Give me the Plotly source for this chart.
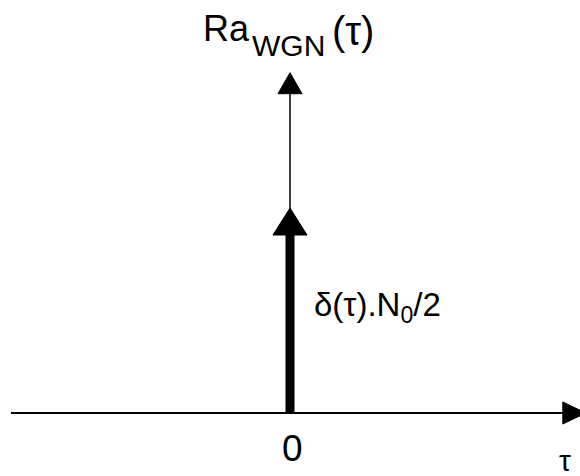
import plotly.graph_objects as go

# Autocorrelation of white Gaussian noise: a single impulse at tau = 0
impulse_tau = [0.0]
impulse_weight = [1.0]          # strength N0/2 (normalised)
tau_span = [-0.962, 1.02]       # extent of the tau axis
r_axis_top = [1.66]             # extent of the Ra axis

W, H = 580, 476
X_RANGE = [-1.0, 1.0]
PX_PER_Y = 205.0
Y0_PX = 413.0
Y_RANGE = [-(H - Y0_PX) / PX_PER_Y, Y0_PX / PX_PER_Y]
PX_PER_X = W / (X_RANGE[1] - X_RANGE[0])

FONT = "Liberation Sans, Arial, sans-serif"


def dx(px):
    return px / PX_PER_X


def dy(px):
    return px / PX_PER_Y


def head(tip_x, tip_y, direction, half_w, length):
    """Filled triangular arrowhead, sizes in pixels."""
    if direction == "up":
        xs = [tip_x, tip_x - dx(half_w), tip_x + dx(half_w), tip_x]
        ys = [tip_y, tip_y - dy(length), tip_y - dy(length), tip_y]
    else:  # right
        xs = [tip_x, tip_x - dx(length), tip_x - dx(length), tip_x]
        ys = [0, dy(half_w), -dy(half_w), 0]
    return go.Scatter(x=xs, y=ys, mode="lines", fill="toself",
                      fillcolor="black", line=dict(color="black", width=1),
                      hoverinfo="skip", showlegend=False)


fig = go.Figure()

# tau axis
fig.add_trace(go.Scatter(x=[tau_span[0], tau_span[1] - dx(22)], y=[0, 0],
                         mode="lines", line=dict(color="black", width=2),
                         showlegend=False))
fig.add_trace(head(tau_span[1], 0, "right", 11, 23))

# Ra axis
fig.add_trace(go.Scatter(x=[0, 0], y=[0, r_axis_top[0] - dy(20)],
                         mode="lines", line=dict(color="black", width=1.5),
                         showlegend=False))
fig.add_trace(head(0, r_axis_top[0], "up", 12, 21))

# impulse
for t, w in zip(impulse_tau, impulse_weight):
    fig.add_trace(go.Scatter(x=[t, t], y=[0, w - dy(26)], mode="lines",
                             line=dict(color="black", width=9),
                             showlegend=False))
    fig.add_trace(head(t, w, "up", 17, 27))


def ptxt(text, x_px, y_px, size, xanchor="left"):
    return dict(text=text, xref="paper", yref="paper", x=x_px / W,
                y=1 - y_px / H, xanchor=xanchor, yanchor="middle",
                font=dict(size=size))


annotations = [
    # axis title Ra_WGN(tau), subscript set a little larger than default
    ptxt("Ra", 201, 28, 36),
    ptxt("WGN", 250, 46, 30),
    ptxt("(τ)", 330, 31, 40),
    # impulse strength
    ptxt("δ(τ).N<sub>0</sub>/2", 312, 307, 33),
    # origin and tau axis labels
    dict(text="0", xref="x", yref="paper",
         x=impulse_tau[0] + dx(2), y=1 - 448 / H, xanchor="center",
         yanchor="middle", font=dict(size=37)),
    ptxt("τ", 565, 460, 30, xanchor="center"),
]
for a in annotations:
    a["showarrow"] = False
    a["font"]["family"] = FONT
    a["font"]["color"] = "black"

fig.update_layout(
    width=W, height=H, margin=dict(l=0, r=0, t=0, b=0),
    paper_bgcolor="white", plot_bgcolor="white",
    xaxis=dict(range=X_RANGE, visible=False, fixedrange=True),
    yaxis=dict(range=Y_RANGE, visible=False, fixedrange=True),
    annotations=annotations, showlegend=False,
)

fig.write_html("out.html")
